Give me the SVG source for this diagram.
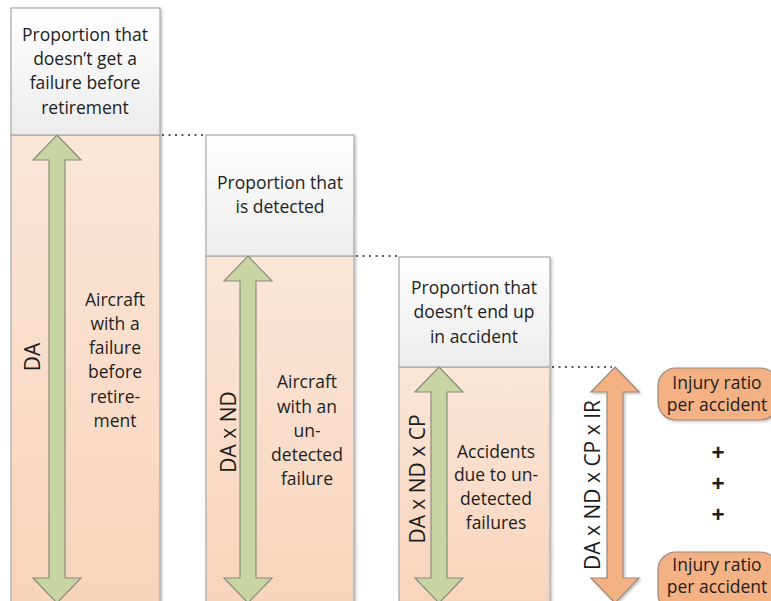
<svg xmlns="http://www.w3.org/2000/svg" width="771" height="601" viewBox="0 0 771 601">
<defs>
<linearGradient id="gGray" x1="0" y1="0" x2="0" y2="1"><stop offset="0" stop-color="#ffffff"/><stop offset="1" stop-color="#ececec"/></linearGradient>
<linearGradient id="gPeach" x1="0" y1="0" x2="0" y2="1"><stop offset="0" stop-color="#fbe6d8"/><stop offset="1" stop-color="#f7d4bc"/></linearGradient>
<filter id="sh" x="-10%" y="-10%" width="130%" height="130%"><feDropShadow dx="1.5" dy="1.5" stdDeviation="1.2" flood-color="#000" flood-opacity="0.25"/></filter>
<style>
.hdr{fill:url(#gGray);stroke:#a8a8a8;stroke-width:1.2}
.body{fill:url(#gPeach);stroke:#a8a8a8;stroke-width:1.2}
.garr{fill:#c9d4a3;stroke:#8c8c7c;stroke-width:1.2}
.oarr{fill:#f4b183;stroke:#9c8878;stroke-width:1.2}
.obox{fill:#f4b183;stroke:#9c8878;stroke-width:1.2}
.t{font-family:"Open Sans","Liberation Sans",sans-serif;font-size:17.5px;fill:#1e1e1e;text-anchor:middle}
.r{font-family:"Open Sans","Liberation Sans",sans-serif;font-size:21px;fill:#1e1e1e;text-anchor:middle}
.p{font-family:"Open Sans","Liberation Sans",sans-serif;font-size:23px;font-weight:bold;fill:#1e1e1e;text-anchor:middle}
.dot{stroke:#5a5a5a;stroke-width:2;stroke-dasharray:2 4.5;fill:none}
</style>
</defs>
<g id="connectors">
<line class="dot" x1="162" y1="135" x2="206" y2="135"/>
<line class="dot" x1="356" y1="256" x2="399" y2="256"/>
<line class="dot" x1="552" y1="367" x2="612" y2="367"/>
</g>
<g id="col1" filter="url(#sh)">
<rect class="body" x="11" y="135" width="149" height="475"/>
<rect class="hdr" x="11" y="8" width="149" height="127"/>
</g>
<g id="col1-text">
<text class="t" x="85" y="41">Proportion that</text>
<text class="t" x="85" y="65">doesn’t get a</text>
<text class="t" x="85" y="89">failure before</text>
<text class="t" x="85" y="114">retirement</text>
<path class="garr" d="M57,135 L81,160 L65,160 L65,578 L81,578 L57,603 L33,578 L49,578 L49,160 L33,160 Z"/>
<text class="r" transform="translate(40,357) rotate(-90)">DA</text>
<text class="t" x="115" y="306">Aircraft</text>
<text class="t" x="115" y="330">with a</text>
<text class="t" x="115" y="354">failure</text>
<text class="t" x="115" y="378">before</text>
<text class="t" x="115" y="403">retire-</text>
<text class="t" x="115" y="427">ment</text>
</g>
<g id="col2" filter="url(#sh)">
<rect class="body" x="206" y="256" width="148" height="354"/>
<rect class="hdr" x="206" y="135" width="148" height="121"/>
</g>
<g id="col2-text">
<text class="t" x="280" y="189">Proportion that</text>
<text class="t" x="280" y="213">is detected</text>
<path class="garr" d="M248,256 L272,281 L256,281 L256,578 L272,578 L248,603 L224,578 L240,578 L240,281 L224,281 Z"/>
<text class="r" transform="translate(236,432) rotate(-90)">DA x ND</text>
<text class="t" x="307" y="388">Aircraft</text>
<text class="t" x="307" y="413">with an</text>
<text class="t" x="307" y="437">un-</text>
<text class="t" x="307" y="461">detected</text>
<text class="t" x="307" y="485">failure</text>
</g>
<g id="col3" filter="url(#sh)">
<rect class="body" x="399" y="367" width="151" height="243"/>
<rect class="hdr" x="399" y="257" width="151" height="110"/>
</g>
<g id="col3-text">
<text class="t" x="474" y="294">Proportion that</text>
<text class="t" x="474" y="318">doesn’t end up</text>
<text class="t" x="474" y="343">in accident</text>
<path class="garr" d="M439,367 L463,392 L447,392 L447,578 L463,578 L439,603 L415,578 L431,578 L431,392 L415,392 Z"/>
<text class="r" transform="translate(425,479) rotate(-90)">DA x ND x CP</text>
<text class="t" x="496" y="458">Accidents</text>
<text class="t" x="496" y="481">due to un-</text>
<text class="t" x="496" y="505">detected</text>
<text class="t" x="496" y="529">failures</text>
</g>
<g id="result">
<path class="oarr" d="M615,367 L639,392 L623,392 L623,578 L639,578 L615,603 L591,578 L607,578 L607,392 L591,392 Z" filter="url(#sh)"/>
<text class="r" transform="translate(600,485) rotate(-90)">DA x ND x CP x IR</text>
</g>
<g id="injury1">
<rect class="obox" x="658" y="368" width="120" height="52" rx="18" filter="url(#sh)"/>
<text class="t" x="717" y="389">Injury ratio</text>
<text class="t" x="717" y="411">per accident</text>
</g>
<g id="plus">
<text class="p" x="718" y="461">+</text>
<text class="p" x="718" y="492">+</text>
<text class="p" x="718" y="523">+</text>
</g>
<g id="injury2">
<rect class="obox" x="658" y="552" width="120" height="60" rx="18" filter="url(#sh)"/>
<text class="t" x="717" y="571">Injury ratio</text>
<text class="t" x="717" y="593">per accident</text>
</g>
</svg>
